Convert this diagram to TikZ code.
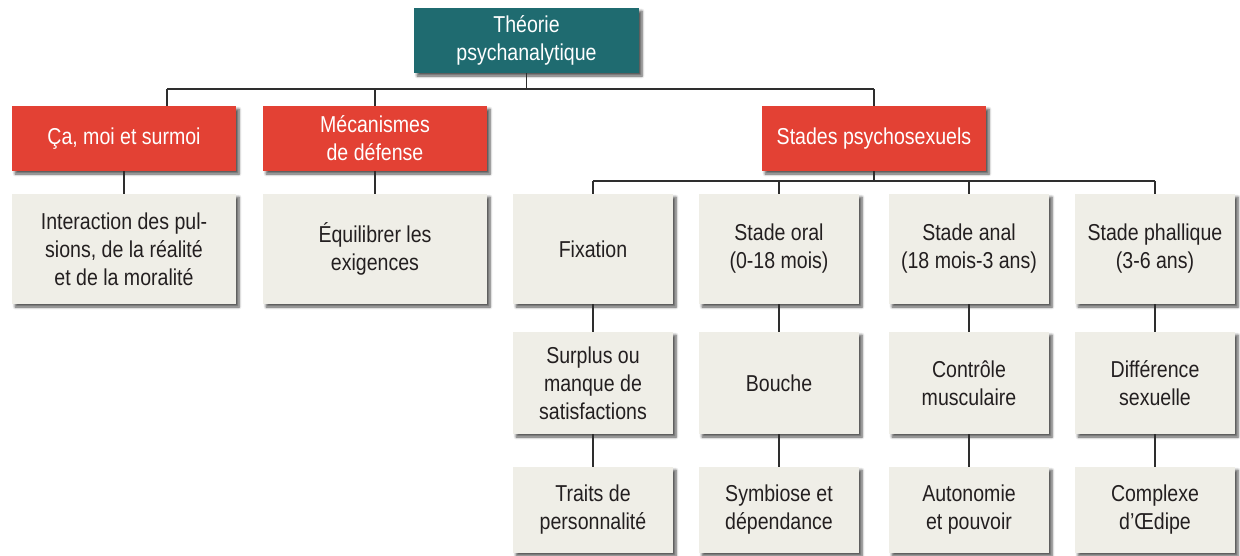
\documentclass[tikz,border=0pt]{standalone}
\usepackage{fontspec}
\setmainfont[FakeStretch=0.85]{Liberation Sans}
\usetikzlibrary{shadows.blur}
\definecolor{tealbox}{HTML}{1F6B70}
\definecolor{redbox}{HTML}{E34134}
\definecolor{beigebox}{HTML}{EFEEE7}
\definecolor{inktext}{HTML}{231F20}
\definecolor{wire}{HTML}{2E2E2E}
\tikzset{
  base/.style={rectangle, inner sep=0pt, align=center,
    font=\fontsize{23}{28}\selectfont,
    blur shadow={shadow xshift=3pt, shadow yshift=-3pt,
      shadow blur radius=2.5pt, shadow blur steps=6, shadow opacity=65}},
  rootbox/.style={base, fill=tealbox, text=white,
    minimum width=225pt, minimum height=65pt},
  headbox/.style={base, fill=redbox, text=white,
    minimum width=224pt, minimum height=65pt},
  wideleaf/.style={base, fill=beigebox, text=inktext,
    minimum width=224pt},
  leaf/.style={base, fill=beigebox, text=inktext,
    minimum width=160pt},
  rowA/.style={minimum height=110pt},
  rowB/.style={minimum height=102pt},
  rowC/.style={minimum height=86pt},
  link/.style={draw=wire, line width=1.1pt}
}
\begin{document}
\begin{tikzpicture}[x=1pt, y=-1pt]
\useasboundingbox (0,0) rectangle (1240,555);

% top of the hierarchy
\node[rootbox] (root) at (526.5,40.5) {Théorie\\psychanalytique};

% the three main branches
\node[headbox] (ca)     at (124,138.5) {Ça, moi et surmoi};
\node[headbox] (meca)   at (375,138.5) {Mécanismes\\de défense};
\node[headbox] (stades) at (874,138.5) {Stades psychosexuels};

% details of the first two branches
\node[wideleaf, rowA] (interaction) at (124,249) {Interaction des pul-\\sions, de la réalité\\et de la moralité};
\node[wideleaf, rowA] (equilibre)   at (375,249) {Équilibrer les\\exigences};

% psychosexual stages, first row
\node[leaf, rowA] (fixation) at (593,249)  {Fixation};
\node[leaf, rowA] (oral)     at (779,249)  {Stade oral\\(0-18 mois)};
\node[leaf, rowA] (anal)     at (969,249)  {Stade anal\\(18 mois-3 ans)};
\node[leaf, rowA] (phall)    at (1155,249) {Stade phallique\\(3-6 ans)};

% second row
\node[leaf, rowB] (surplus)  at (593,383)  {Surplus ou\\manque de\\satisfactions};
\node[leaf, rowB] (bouche)   at (779,383)  {Bouche};
\node[leaf, rowB] (controle) at (969,383)  {Contrôle\\musculaire};
\node[leaf, rowB] (diff)     at (1155,383) {Différence\\sexuelle};

% third row
\node[leaf, rowC] (traits)   at (593,510)  {Traits de\\personnalité};
\node[leaf, rowC] (symb)     at (779,510)  {Symbiose et\\dépendance};
\node[leaf, rowC] (auto)     at (969,510)  {Autonomie\\et pouvoir};
\node[leaf, rowC] (oedipe)   at (1155,510) {Complexe\\d’Œdipe};

% bus joining the root to its branches
\coordinate (busL) at (167,89);
\coordinate (busS) at (874,181);
\draw[link] (root.south) -- (root.south |- busL);
\draw[link] (busL) -- (busL -| stades.north);
\draw[link] (busL) -- (busL |- ca.north);
\draw[link] (meca.north |- busL) -- (meca.north);
\draw[link] (stades.north |- busL) -- (stades.north);

% branch to detail links
\draw[link] (ca.south) -- (interaction.north);
\draw[link] (meca.south) -- (equilibre.north);

% bus under the stages
\draw[link] (stades.south) -- (busS);
\draw[link] (busS -| fixation.north) -- (busS -| phall.north);
\foreach \n in {fixation, oral, anal, phall}
  \draw[link] (busS -| \n.north) -- (\n.north);

% column links
\draw[link] (fixation.south) -- (surplus.north);
\draw[link] (surplus.south) -- (traits.north);
\draw[link] (oral.south) -- (bouche.north);
\draw[link] (bouche.south) -- (symb.north);
\draw[link] (anal.south) -- (controle.north);
\draw[link] (controle.south) -- (auto.north);
\draw[link] (phall.south) -- (diff.north);
\draw[link] (diff.south) -- (oedipe.north);
\end{tikzpicture}
\end{document}
